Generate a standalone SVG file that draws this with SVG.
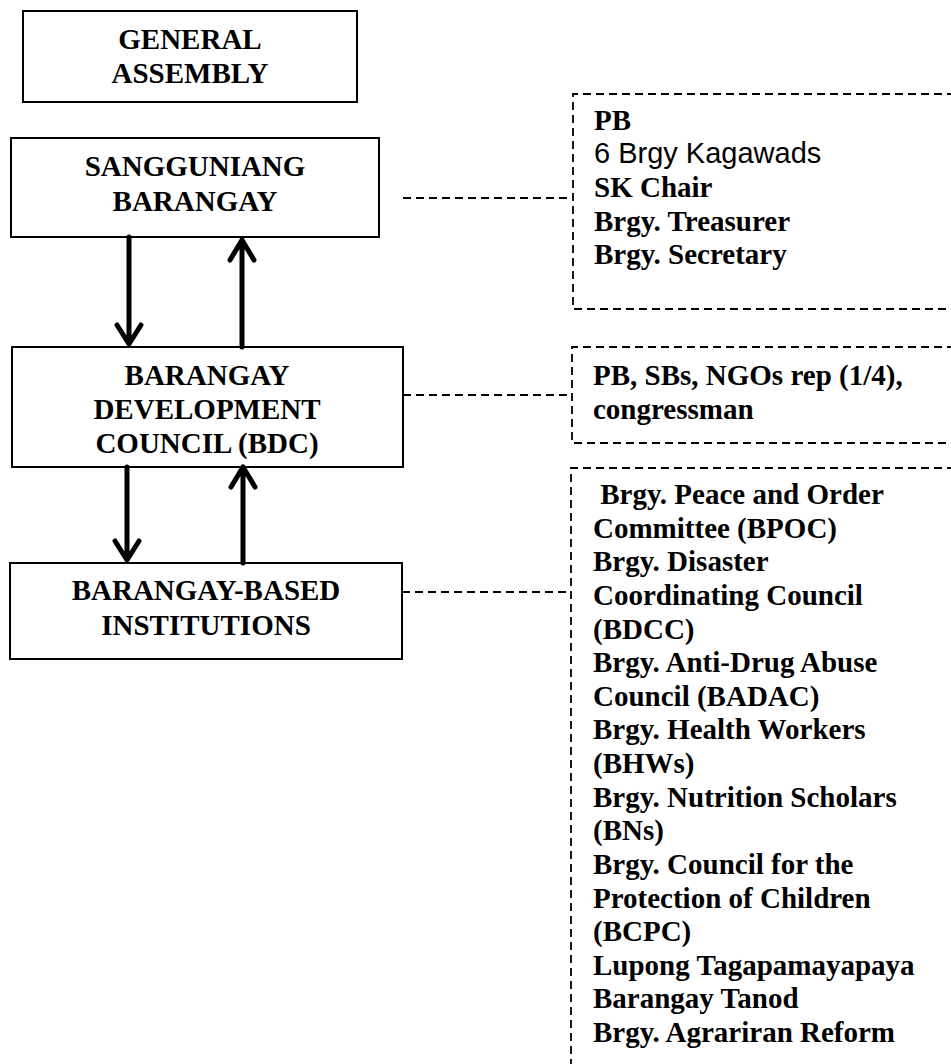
<svg xmlns="http://www.w3.org/2000/svg" width="951" height="1064" viewBox="0 0 951 1064">
<defs>
<style>
.box{fill:#fff;stroke:#000;stroke-width:2}
.t{font-family:"Liberation Serif","Times New Roman",serif;font-weight:bold;font-size:29px;fill:#000}
.c{text-anchor:middle}
.s{font-family:"Liberation Sans",Arial,sans-serif;font-weight:normal;font-size:29px;fill:#000}
.dash{fill:none;stroke:#000;stroke-width:1.8;stroke-dasharray:8 5}
.arr{fill:none;stroke:#000;stroke-width:5;stroke-linecap:round;stroke-linejoin:round}
</style>
</defs>
<rect width="951" height="1064" fill="#fff"/>

<g id="general-assembly">
<rect class="box" x="23" y="11" width="334" height="91"/>
<text class="t c" x="190" y="49">GENERAL</text>
<text class="t c" x="190" y="83">ASSEMBLY</text>
</g>

<g id="sangguniang-barangay">
<rect class="box" x="11" y="138" width="368" height="99"/>
<text class="t c" x="195" y="176">SANGGUNIANG</text>
<text class="t c" x="195" y="211">BARANGAY</text>
</g>

<g id="bdc">
<rect class="box" x="12" y="347" width="391" height="120"/>
<text class="t c" x="207" y="385">BARANGAY</text>
<text class="t c" x="207" y="419">DEVELOPMENT</text>
<text class="t c" x="207" y="453">COUNCIL (BDC)</text>
</g>

<g id="bbi">
<rect class="box" x="10" y="563" width="392" height="96"/>
<text class="t c" x="206" y="600">BARANGAY-BASED</text>
<text class="t c" x="206" y="635">INSTITUTIONS</text>
</g>

<g id="sb-members">
<path class="dash" d="M955,94 H573 V309 H955"/>
<text class="t" x="594" y="130">PB</text>
<text class="s" x="594" y="163">6 Brgy Kagawads</text>
<text class="t" x="594" y="197">SK Chair</text>
<text class="t" x="594" y="231">Brgy. Treasurer</text>
<text class="t" x="594" y="264">Brgy. Secretary</text>
</g>

<g id="bdc-members">
<path class="dash" d="M955,347 H572 V443 H955"/>
<text class="t" x="593" y="385">PB, SBs, NGOs rep (1/4),</text>
<text class="t" x="593" y="419">congressman</text>
</g>

<g id="bbi-members">
<path class="dash" d="M955,468 H571 V1068"/>
<g class="t">
<text x="593" y="504" xml:space="preserve"> Brgy. Peace and Order</text>
<text x="593" y="537.6">Committee (BPOC)</text>
<text x="593" y="571.3">Brgy. Disaster</text>
<text x="593" y="604.9">Coordinating Council</text>
<text x="593" y="638.5">(BDCC)</text>
<text x="593" y="672.1">Brgy. Anti-Drug Abuse</text>
<text x="593" y="705.8">Council (BADAC)</text>
<text x="593" y="739.4">Brgy. Health Workers</text>
<text x="593" y="773">(BHWs)</text>
<text x="593" y="806.6">Brgy. Nutrition Scholars</text>
<text x="593" y="840.3">(BNs)</text>
<text x="593" y="873.9">Brgy. Council for the</text>
<text x="593" y="907.5">Protection of Children</text>
<text x="593" y="941.1">(BCPC)</text>
<text x="593" y="974.8">Lupong Tagapamayapaya</text>
<text x="593" y="1008.4">Barangay Tanod</text>
<text x="593" y="1042">Brgy. Agrariran Reform</text>
</g>
</g>

<g id="connectors">
<line class="dash" x1="403" y1="198" x2="573" y2="198"/>
<line class="dash" x1="403" y1="395" x2="572" y2="395"/>
<line class="dash" x1="402" y1="592" x2="571" y2="592"/>
<path class="arr" d="M129,237 V343 M117,325 L129,344 L141,325"/>
<path class="arr" d="M242,347 V241 M230,260 L242,240 L254,260"/>
<path class="arr" d="M127,467 V559 M115,541 L127,560 L139,541"/>
<path class="arr" d="M243,563 V468 M231,487 L243,467 L255,487"/>
</g>
</svg>
